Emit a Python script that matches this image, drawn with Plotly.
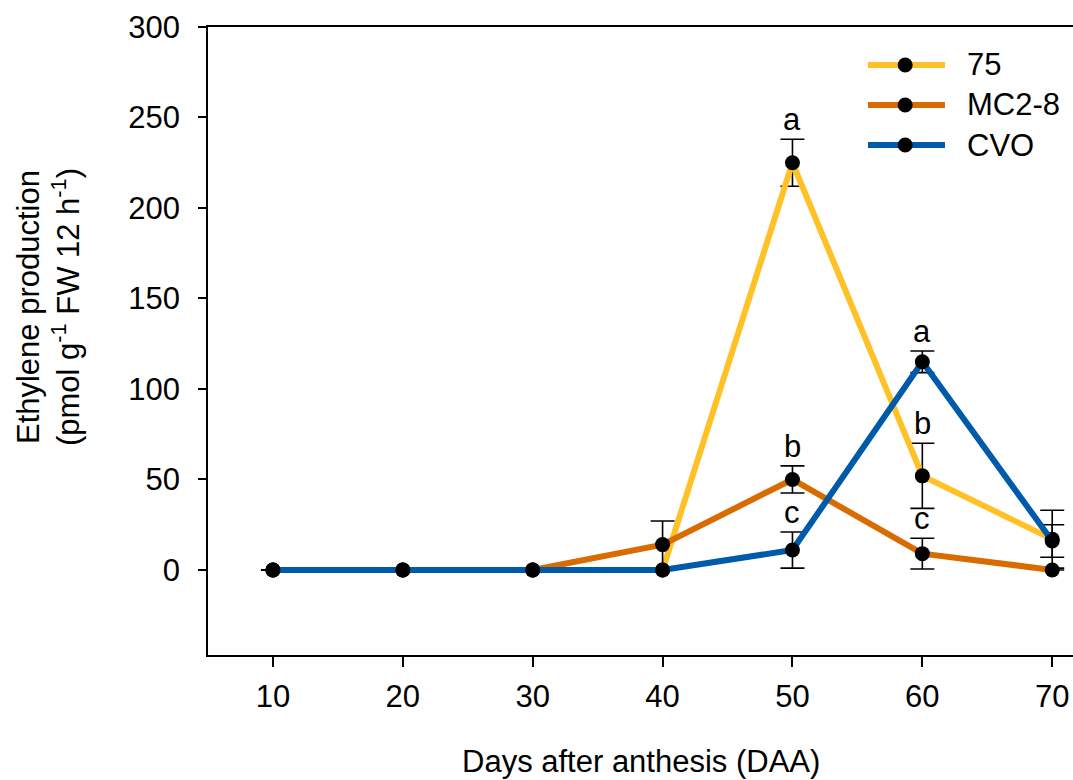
import plotly.graph_objects as go

# Days after anthesis
days = [10, 20, 30, 40, 50, 60, 70]

# Ethylene production (pmol g-1 FW 12 h-1) and standard errors per line
series_names = ["75", "MC2-8", "CVO"]
vals_75 = [0, 0, 0, 0, 225, 52, 17]
err_75 = [0, 0, 0, 0, 13, 18, 16]
vals_mc28 = [0, 0, 0, 14, 50, 9, 0]
err_mc28 = [0, 0, 0, 13, 7.5, 8.5, 0]
vals_cvo = [0, 0, 0, 0, 11, 115, 16]
err_cvo = [0, 0, 0, 0, 10, 6, 9]

# Significance letters: (day, series index, letter)
letters = [
    (50, 0, "a"), (50, 1, "b"), (50, 2, "c"),
    (60, 2, "a"), (60, 0, "b"), (60, 1, "c"),
]

colors = ["#FFC125", "#D96C00", "#005AAA"]
FONT = "Liberation Sans, Arial, sans-serif"
FS = 31
LINE_W = 6
MARKER = 15

all_vals = [vals_75, vals_mc28, vals_cvo]
all_errs = [err_75, err_mc28, err_cvo]

fig = go.Figure()
for name, v, e, c in zip(series_names, all_vals, all_errs, colors):
    fig.add_trace(go.Scatter(
        x=days, y=v, name=name, mode="lines+markers",
        line=dict(color=c, width=LINE_W),
        marker=dict(color="black", size=MARKER),
        error_y=dict(type="data", array=e, visible=True,
                     color="black", thickness=1.6, width=12),
        showlegend=False,
    ))

for day, si, txt in letters:
    i = days.index(day)
    fig.add_annotation(
        x=day, y=all_vals[si][i] + all_errs[si][i], text=txt,
        showarrow=False, yanchor="bottom", yshift=0,
        font=dict(family=FONT, size=FS, color="black"),
    )

# Legend key in the upper-right corner (paper coordinates)
W_PX, H_PX = 865, 628          # plot area size in pixels
key_x0, key_x1, key_xm = 0.763, 0.852, 0.806
text_x = 0.875
row_y0, row_step = 0.9395, 0.0637
rx, ry = (MARKER / 2) / W_PX, (MARKER / 2) / H_PX
for k, (name, c) in enumerate(zip(series_names, colors)):
    yk = row_y0 - k * row_step
    fig.add_shape(type="line", xref="paper", yref="paper",
                  x0=key_x0, x1=key_x1, y0=yk, y1=yk,
                  line=dict(color=c, width=LINE_W))
    fig.add_shape(type="circle", xref="paper", yref="paper",
                  x0=key_xm - rx, x1=key_xm + rx, y0=yk - ry, y1=yk + ry,
                  fillcolor="black", line=dict(color="black", width=0))
    fig.add_annotation(xref="paper", yref="paper", x=text_x, y=yk,
                       xanchor="left", yanchor="middle", text=name,
                       showarrow=False,
                       font=dict(family=FONT, size=FS, color="black"))

# Axis titles
fig.add_annotation(
    xref="paper", yref="paper", x=0.5, y=-0.170, yanchor="middle",
    text="Days after anthesis (DAA)", showarrow=False,
    font=dict(family=FONT, size=FS, color="black"),
)
fig.add_annotation(
    xref="paper", yref="paper", x=-0.185, xanchor="center",
    y=0.554, yanchor="middle",
    text="Ethylene production<br>(pmol g<sup>-1</sup> FW 12 h<sup>-1</sup>)",
    textangle=-90, showarrow=False, align="center",
    font=dict(family=FONT, size=FS, color="black"),
)

fig.update_layout(
    width=1073, height=780,
    margin=dict(l=208, r=0, t=27, b=125),
    plot_bgcolor="white", paper_bgcolor="white",
    font=dict(family=FONT, size=FS, color="black"),
    showlegend=False,
)
fig.update_xaxes(
    range=[5, 71.6], tickvals=days, showgrid=False, zeroline=False,
    showline=True, linecolor="black", linewidth=1.5, mirror=True,
    ticks="outside", ticklen=10, tickcolor="black", tickwidth=1.5,
    ticklabelstandoff=3,
    tickfont=dict(family=FONT, size=FS, color="black"),
)
fig.update_yaxes(
    range=[-47, 300], tickvals=[0, 50, 100, 150, 200, 250, 300],
    showgrid=False, zeroline=False,
    showline=True, linecolor="black", linewidth=1.5,
    ticks="outside", ticklen=8, tickcolor="black", tickwidth=1.5,
    ticklabelstandoff=12,
    tickfont=dict(family=FONT, size=FS, color="black"),
)

fig.write_html("out.html")
